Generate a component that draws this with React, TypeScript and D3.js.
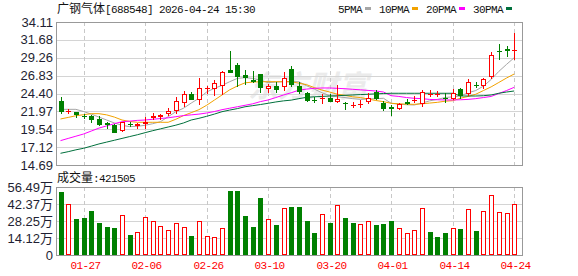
import React, { useEffect } from 'react';
import * as d3 from 'd3';

const dates = [
  '01-22','01-23','01-26','01-27','01-28','01-29','01-30','02-02','02-03','02-04','02-05','02-06',
  '02-09','02-10','02-11','02-12','02-13','02-24','02-25','02-26','02-27','03-02','03-03','03-04',
  '03-05','03-06','03-09','03-10','03-11','03-12','03-13','03-16','03-17','03-18','03-19','03-20',
  '03-23','03-24','03-25','03-26','03-27','03-30','03-31','04-01','04-02','04-03','04-07','04-08',
  '04-09','04-10','04-13','04-14','04-15','04-16','04-17','04-20','04-21','04-22','04-23','04-24'
];
const openPrices = [
  23.42,21.92,21.85,21.38,21.35,20.98,20.35,20.08,19.35,20.3,20.0,20.3,
  21.12,21.18,21.66,22.07,23.15,24.33,23.52,25.15,24.97,25.42,27.59,28.27,
  26.91,26.23,27.05,24.97,25.46,25.24,27.73,25.41,24.5,23.55,23.6,23.8,
  23.2,23.15,22.75,22.8,23.29,24.65,23.07,22.53,22.25,23.18,23.4,22.97,
  24.2,24.25,23.8,23.62,24.97,24.29,25.6,25.46,26.6,30.2,30.4,30.2
];
const highPrices = [
  23.88,22.25,21.9,21.65,21.44,21.3,20.53,20.22,20.55,20.57,20.4,21.17,
  21.7,21.65,22.39,23.88,24.74,24.55,26.46,25.42,26.23,27.46,30.17,28.58,
  27.59,27.5,27.1,25.7,25.96,27.32,28.13,26.0,24.55,23.97,24.37,24.3,
  25.55,23.25,23.3,23.5,24.43,24.87,23.42,22.84,23.1,23.6,24.0,24.87,
  24.87,24.78,24.51,24.97,25.19,26.33,25.92,26.55,30.0,31.12,30.85,32.66
];
const lowPrices = [
  21.58,21.6,21.11,20.98,20.44,19.99,19.62,19.04,19.2,19.89,19.55,19.62,
  20.8,20.8,21.35,21.6,22.53,23.45,22.88,24.4,24.1,24.16,27.14,25.32,
  25.55,25.78,24.43,24.51,24.47,24.7,25.32,24.4,23.3,23.15,22.93,23.25,
  23.15,22.16,22.4,22.4,22.98,23.52,22.07,21.38,22.1,22.8,23.05,22.53,
  23.97,23.88,23.15,23.52,23.65,24.1,25.19,25.0,26.33,28.95,29.32,28.95
];
const closePrices = [
  21.85,22.05,21.48,21.25,20.84,20.16,20.08,19.08,20.5,20.17,20.22,20.55,
  21.3,21.43,22.02,23.38,24.33,23.52,25.11,25.2,25.78,27.28,27.23,26.62,
  26.55,25.92,25.19,25.38,24.92,26.47,25.55,24.6,23.38,23.35,23.8,23.29,
  23.6,22.97,22.9,23.0,23.75,23.62,22.35,22.28,22.93,23.0,23.5,24.6,
  24.4,24.35,23.62,24.43,24.06,26.0,25.42,26.33,29.63,29.99,30.17,30.36
];
const volumes = [
  526000,423700,301700,310000,365500,268000,235000,227000,332000,166000,188000,315700,
  282000,241000,208000,266000,235000,160000,282000,158000,149500,224000,534000,534000,
  324000,235000,476000,299000,249000,390000,399000,399000,282000,183000,340600,266000,
  413000,310000,266000,255000,280000,249000,257500,282000,224000,180000,205000,390000,
  191000,149500,180000,224000,216000,382000,199000,365500,496000,357000,349000,421505
];
const ma5 = [
  22.25,22.25,22.25,21.95,21.6,21.2,20.8,20.4,20.08,19.9,19.95,20.08,
  20.3,20.57,21.25,21.93,22.4,23.1,23.75,24.6,25.1,25.5,26.0,26.45,
  26.55,26.45,26.2,25.87,25.95,26.0,26.0,26.0,25.45,25.0,24.5,24.1,
  23.95,23.85,23.7,23.6,23.65,23.7,23.75,23.07,22.95,22.88,22.84,23.1,
  23.4,23.6,23.85,23.95,24.06,24.5,24.8,25.4,26.3,27.4,28.35,29.26
];
const ma10 = [
  20.94,21.15,21.38,21.52,21.66,21.66,21.5,21.2,20.8,20.6,20.49,20.49,
  20.49,20.49,20.49,20.9,21.4,21.8,22.2,22.8,23.5,24.2,24.9,25.42,
  25.85,25.95,26.0,26.0,26.0,26.0,26.0,25.8,25.6,25.2,24.87,24.6,
  24.3,24.15,23.95,23.85,23.65,23.45,23.29,23.07,23.0,22.95,22.93,23.0,
  23.1,23.2,23.35,23.42,23.75,24.0,24.3,24.8,25.3,25.9,26.5,27.05
];
const ma20 = [
  18.0,18.3,18.6,18.9,19.3,19.7,20.0,20.3,20.57,20.65,20.75,20.8,
  20.9,21.0,21.1,21.25,21.4,21.5,21.6,21.75,21.95,22.2,22.4,22.6,
  22.8,23.0,23.3,23.52,23.85,24.2,24.5,24.85,25.0,25.1,25.15,25.15,
  25.1,25.05,24.97,24.9,24.82,24.74,24.6,24.1,24.0,23.85,23.75,23.7,
  23.6,23.55,23.52,23.52,23.55,23.6,23.7,23.85,24.0,24.4,24.8,25.24
];
const ma30 = [
  16.28,16.5,16.75,16.96,17.25,17.55,17.8,18.05,18.3,18.55,18.8,19.08,
  19.35,19.6,19.85,20.1,20.4,20.8,21.03,21.3,21.6,21.93,22.15,22.35,
  22.6,22.75,22.9,23.07,23.25,23.4,23.5,23.7,23.88,23.95,24.0,24.06,
  24.1,24.15,24.2,24.25,24.3,24.35,24.4,24.43,24.43,24.43,24.43,24.43,
  24.43,24.43,24.43,24.43,24.06,24.06,24.06,24.1,24.2,24.43,24.6,24.74
];
const priceTicks = [34.11, 31.68, 29.26, 26.83, 24.40, 21.97, 19.54, 17.12, 14.69];
const volumeTicks = [0, 141225, 282450, 423675, 564900];
const volumeTickLabels = ['0', '14.12万', '28.25万', '42.37万', '56.49万'];
const xTickLabels = ['01-27', '02-06', '02-26', '03-10', '03-20', '04-01', '04-14', '04-24'];
const maNames = ['5PMA', '10PMA', '20PMA', '30PMA'];
const maSeries = [ma5, ma10, ma20, ma30];
const maColors = ['#a6a6a6', '#f2a200', '#ff00ff', '#00703c'];
const stockTitle = '广钢气体';
const stockCode = '[688548] 2026-04-24 15:30';
const volumeTitle = '成交量';

const W = 578, H = 276;
const L = 56, R = 522;
const PT = 22, PB = 165, VT = 187, VB = 255;
const UP = '#ff0000', DOWN = '#008000';
const MONO = "'Liberation Mono', 'DejaVu Sans Mono', monospace";
const CJK = "'Noto Sans CJK SC', sans-serif";
const SANS = "'Liberation Sans', Arial, 'Noto Sans CJK SC', sans-serif";

export default function App() {
  useEffect(() => { document.body.style.margin = '0'; }, []);
  const x = d3.scalePoint<string>().domain(dates).range([60.5, 514.2]);
  const y = d3.scaleLinear().domain([14.69, 34.11]).range([PB, PT]);
  const yv = d3.scaleLinear().domain([0, 564900]).range([VB, VT]);
  const cx = (i: number) => Math.round(x(dates[i]) as number);
  const crisp = (v: number) => Math.round(v) + 0.5;
  const line = d3.line<number>().x((_, i) => x(dates[i]) as number).y((d) => y(d));

  let lx = 338;
  const legend = maNames.map((n, k) => {
    const tx = lx;
    const sx = lx + n.length * 6 + 3;
    lx = sx + 6 + 8;
    return { n, tx, sx, c: maColors[k] };
  });

  return (
    <svg width={W} height={H} style={{ position: 'absolute', left: 0, top: 0, display: 'block', background: '#fff' }}>
      <rect x={0} y={0} width={W} height={H} fill="#fff" />
      {/* watermark */}
      <text x={248} y={97} fontFamily={CJK} fontSize={30} fontWeight={700} fontStyle="italic" fill="#ebebeb">东方财富</text>
      {/* title */}
      <text y={12.5} fill="#111">
        <tspan x={57} fontFamily={CJK} fontSize={12}>{stockTitle}</tspan>
        <tspan fontFamily={MONO} fontSize={11} letterSpacing={-0.6}>{stockCode}</tspan>
      </text>
      {legend.map((g) => (
        <g key={g.n}>
          <text x={g.tx} y={12.5} fontFamily={MONO} fontSize={11} letterSpacing={-0.6} fill="#111">{g.n}</text>
          <rect x={g.sx} y={7} width={6} height={3} fill={g.c} />
        </g>
      ))}
      {/* price grid */}
      {priceTicks.slice(1, -1).map((t) => (
        <line key={'pg' + t} x1={L} x2={R} y1={crisp(y(t))} y2={crisp(y(t))} stroke="#d4d4d4" />
      ))}
      {volumeTicks.slice(1, -1).map((t) => (
        <line key={'vg' + t} x1={L} x2={R} y1={crisp(yv(t))} y2={crisp(yv(t))} stroke="#d4d4d4" />
      ))}
      {xTickLabels.map((d) => {
        const xx = crisp(x(d) as number);
        return (
          <g key={'xg' + d}>
            <line x1={xx} x2={xx} y1={PT} y2={PB} stroke="#c8c8c8" strokeDasharray="4,3" />
            <line x1={xx} x2={xx} y1={VT} y2={VB} stroke="#c8c8c8" strokeDasharray="4,3" />
            <text x={xx + 1} y={269} textAnchor="middle" fontFamily={MONO} fontSize={11} letterSpacing={-0.6} fill="#ff0000">{d}</text>
          </g>
        );
      })}
      {/* frames */}
      <rect x={L + 0.5} y={crisp(PT)} width={R - L} height={PB - PT} fill="none" stroke="#999" />
      <rect x={L + 0.5} y={crisp(VT)} width={R - L} height={VB - VT} fill="none" stroke="#999" />
      {/* y labels */}
      {priceTicks.map((t) => (
        <text key={'pl' + t} x={53} y={y(t) + 4.5} textAnchor="end" fontFamily={SANS} fontSize={13} fill="#1f1f33">{t.toFixed(2)}</text>
      ))}
      {volumeTicks.map((t, k) => (
        <text key={'vl' + t} x={53} y={yv(t) + 4.5} textAnchor="end" fontFamily={SANS} fontSize={13} fill="#1f1f33">
          {volumeTickLabels[k]}
        </text>
      ))}
      <text y={182} fill="#111">
        <tspan x={57} fontFamily={CJK} fontSize={12}>{volumeTitle}</tspan>
        <tspan fontFamily={MONO} fontSize={11} letterSpacing={-0.6}>{':' + volumes[volumes.length - 1]}</tspan>
      </text>
      {/* MA lines */}
      {maSeries.map((s, k) => (
        <path key={'ma' + k} d={line(s) || ''} fill="none" stroke={maColors[k]} strokeWidth={1} />
      ))}
      {/* candles */}
      {dates.map((d, i) => {
        const o = openPrices[i], c = closePrices[i];
        const up = c >= o;
        const col = up ? UP : DOWN;
        const xc = cx(i);
        const yTop = y(Math.max(o, c)), yBot = y(Math.min(o, c));
        const hgt = Math.max(1, Math.round(yBot) - Math.round(yTop));
        return (
          <g key={'c' + d}>
            <line x1={xc + 0.5} x2={xc + 0.5} y1={Math.round(y(highPrices[i]))} y2={Math.round(y(lowPrices[i]))} stroke={col} />
            {up ? (
              hgt <= 2 ? (
                <rect x={xc - 2} y={Math.round(yTop)} width={5} height={Math.max(1, hgt)} fill={col} />
              ) : (
                <rect x={xc - 1.5} y={Math.round(yTop) + 0.5} width={4} height={hgt - 1} fill="#fff" stroke={col} />
              )
            ) : (
              <rect x={xc - 2} y={Math.round(yTop)} width={5} height={hgt} fill={col} />
            )}
          </g>
        );
      })}
      {/* volume */}
      {dates.map((d, i) => {
        const prev = i > 0 ? closePrices[i - 1] : openPrices[i];
        const up = closePrices[i] > prev;
        const xc = cx(i);
        const top = Math.round(yv(volumes[i]));
        return up ? (
          <rect key={'v' + d} x={xc - 1.5} y={top + 0.5} width={4} height={VB - top - 1} fill="#fff" stroke={UP} />
        ) : (
          <rect key={'v' + d} x={xc - 2} y={top} width={5} height={VB - top} fill={DOWN} />
        );
      })}
    </svg>
  );
}
